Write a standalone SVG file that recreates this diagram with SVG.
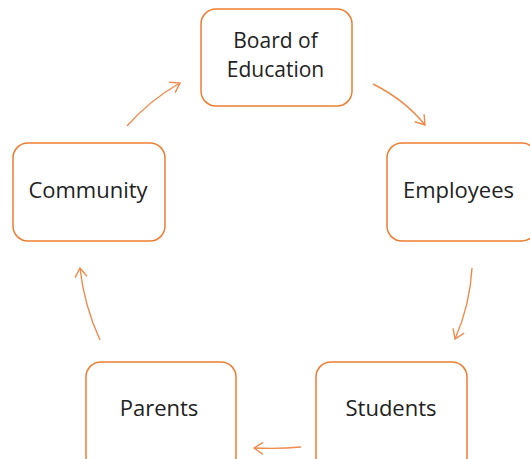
<svg xmlns="http://www.w3.org/2000/svg" width="530" height="459" viewBox="0 0 530 459">
<style>
.box{fill:#fff;stroke:#ED7D31;stroke-width:1.5}
.lbl{font-family:"Open Sans","Liberation Sans",sans-serif;font-size:22px;fill:#222;text-anchor:middle}
.sm{font-size:21px}
.arr{fill:none;stroke:#F08A4B;stroke-width:1.4;marker-end:url(#ah)}
</style>
<defs>
<marker id="ah" markerUnits="userSpaceOnUse" markerWidth="20" markerHeight="20" refX="0" refY="0" viewBox="-12 -10 14 20" orient="auto">
<path d="M-9,-6 L0,0 L-9,6" fill="none" stroke="#F08A4B" stroke-width="1.4"/>
</marker>
</defs>
<rect width="530" height="459" fill="#fff"/>
<g id="connectors">
<path class="arr" d="M373,84 Q405,100 425,125"/>
<path class="arr" d="M472,268 Q470,305 455,339"/>
<path class="arr" d="M301,447 Q280,449 254,448"/>
<path class="arr" d="M100,340 Q84,305 80,268"/>
<path class="arr" d="M127,126 Q150,100 180,83"/>
</g>
<g id="board">
<rect class="box" x="201" y="9" width="151" height="97" rx="15"/>
<text class="lbl sm" x="275.5" y="48">Board of</text>
<text class="lbl sm" x="275.5" y="77">Education</text>
</g>
<g id="employees">
<rect class="box" x="387" y="143" width="150" height="98" rx="15"/>
<text class="lbl" x="458.5" y="198">Employees</text>
</g>
<g id="students">
<rect class="box" x="316" y="362" width="151" height="110" rx="15"/>
<text class="lbl" x="391" y="416">Students</text>
</g>
<g id="parents">
<rect class="box" x="86" y="362" width="150" height="110" rx="15"/>
<text class="lbl" x="159" y="416">Parents</text>
</g>
<g id="community">
<rect class="box" x="13" y="143" width="152" height="98" rx="15"/>
<text class="lbl" x="88" y="198">Community</text>
</g>
</svg>
